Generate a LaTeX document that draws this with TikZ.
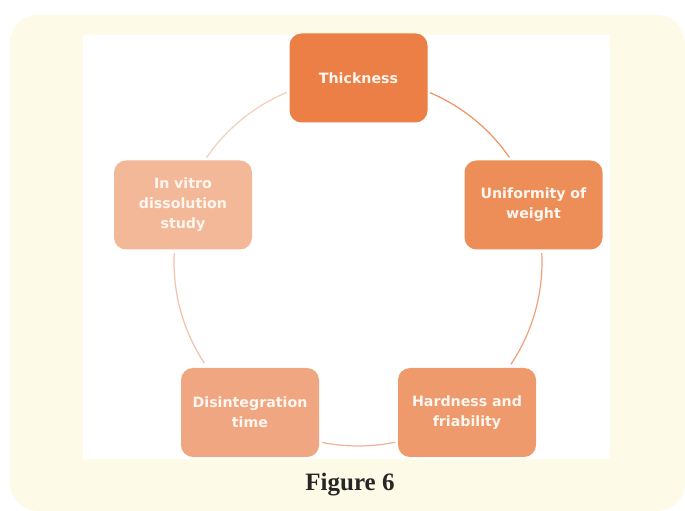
\documentclass[tikz,border=0pt]{standalone}
\usepackage{fontspec}
\usetikzlibrary{calc}
\newfontfamily\boxfont{DejaVu Sans}
\setmainfont{Liberation Serif}
\definecolor{bgyellow}{HTML}{FEFAE8}
\definecolor{cA}{HTML}{EC7F45}
\definecolor{cB}{HTML}{ED8E59}
\definecolor{cC}{HTML}{EE9A6C}
\definecolor{cD}{HTML}{F0A680}
\definecolor{cE}{HTML}{F3B898}
\definecolor{aA}{HTML}{EE9262}
\definecolor{aB}{HTML}{F0A07A}
\definecolor{aC}{HTML}{F2B098}
\definecolor{aD}{HTML}{F4C0AA}
\definecolor{aE}{HTML}{F6CDB9}
\definecolor{txt}{HTML}{FFF6F0}
\begin{document}
\begin{tikzpicture}[x=1pt,y=1pt,
  stepbox/.style={rounded corners=12pt, minimum width=138pt, minimum height=89pt,
    text width=130pt, align=center, inner sep=0pt, text=txt,
    font=\boxfont\bfseries\fontsize{14.2}{20}\selectfont},
  ring/.style={line width=1.2pt}]
\useasboundingbox (0,0) rectangle (685,511);
\fill[bgyellow, rounded corners=28pt] (10,0) rectangle (685,496);
\fill[white] (83,52) rectangle (610,476);
\coordinate (O) at (358,249);
% arc start points
\coordinate (s1) at ($(O)+(67:184)$);
\coordinate (s2) at ($(O)+(2.8:184)$);
\coordinate (s3) at ($(O)+(-78.3:184)$);
\coordinate (s4) at ($(O)+(-146.6:184)$);
\coordinate (s5) at ($(O)+(145.5:184)$);
\draw[ring, aA] (s1) arc[start angle=67, end angle=34.6, radius=184];
\draw[ring, aB] (s2) arc[start angle=2.8, end angle=-33.8, radius=184];
\draw[ring, aC] (s3) arc[start angle=-78.3, end angle=-101.2, radius=184];
\draw[ring, aD] (s4) arc[start angle=-146.6, end angle=-182.8, radius=184];
\draw[ring, aE] (s5) arc[start angle=145.5, end angle=112.8, radius=184];
% boxes
\node[stepbox, fill=cA] (thick) at (358.5,433) {Thickness};
\node[stepbox, fill=cB] (unif) at (533.5,306) {Uniformity of\\weight};
\node[stepbox, fill=cC] (hard) at (467,98.5) {Hardness and\\friability};
\node[stepbox, fill=cD] (disint) at (250,98.5) {Disintegration\\time};
\node[stepbox, fill=cE] (vitro) at (183,306) {In vitro\\dissolution\\study};
% caption
\node[font=\bfseries\fontsize{25}{28}\selectfont, text=black!85] (cap) at (350,26) {Figure 6};
\end{tikzpicture}
\end{document}
